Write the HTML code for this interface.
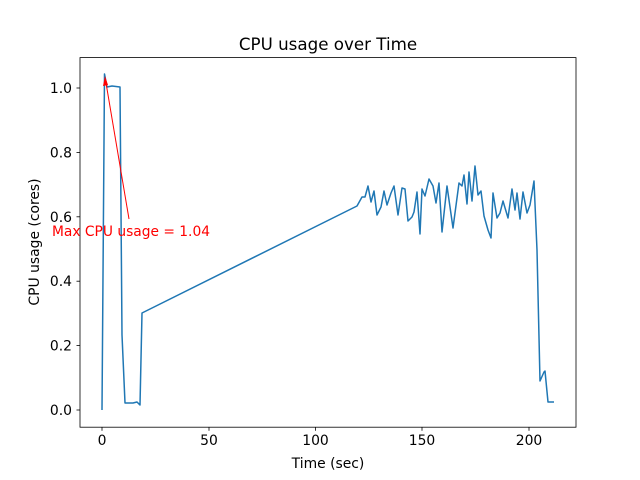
<!DOCTYPE html>
<html><head><meta charset="utf-8"><style>body{margin:0;background:#fff}svg{display:block}text{font-family:"DejaVu Sans","Liberation Sans",sans-serif}</style></head>
<body>
<svg width="640" height="480" viewBox="0 0 640 480">
<rect x="80" y="57.6" width="496" height="369.6" fill="#fff" stroke="#000" stroke-width="0.8"/>
<polyline fill="none" stroke="#1f77b4" stroke-width="1.5" stroke-linejoin="round" points="102,410 104.5,74 107,87 112,86 120,87 122,335 125,403 130,403 133,403 137,402 140,405 142,313 357,206 362,197 365,197 368,186 371,202 374,191 377,215 381,207 384,191 387,205 391,193 394,186 398,215 402,188 405,189 408,221 412,217 414,212 417,192 420,234 422,189 425,196 429,179 433,186 436,203 439,183 442,232 447,186 453,228 459,183 462,186 464,175 467,204 469,172 472,201 475,166 478,195 481,191 484,216 488,230 491,238 493,193 497,218 500,213 503,201 508,218 512,189 515,210 517,193 520,219 523,192 527,213 530,205 534,181 537,250 540,381 544,372 545,371 548,402 554,402"/>
<line x1="129" y1="219" x2="105.5" y2="80" stroke="red" stroke-width="1"/>
<polygon points="105,76 103,86 108,85" fill="red"/>
<text x="52" y="236" font-size="13.9" fill="red" textLength="158" lengthAdjust="spacingAndGlyphs">Max CPU usage = 1.04</text>
<g stroke="#000" stroke-width="0.8">
<line x1="102" y1="427.2" x2="102" y2="430.7"/><line x1="209" y1="427.2" x2="209" y2="430.7"/><line x1="315.5" y1="427.2" x2="315.5" y2="430.7"/><line x1="422" y1="427.2" x2="422" y2="430.7"/><line x1="529" y1="427.2" x2="529" y2="430.7"/>
<line x1="80" y1="410" x2="76.5" y2="410"/><line x1="80" y1="345.6" x2="76.5" y2="345.6"/><line x1="80" y1="281.2" x2="76.5" y2="281.2"/><line x1="80" y1="216.8" x2="76.5" y2="216.8"/><line x1="80" y1="152.4" x2="76.5" y2="152.4"/><line x1="80" y1="88" x2="76.5" y2="88"/>
</g>
<g font-size="13.9" text-anchor="middle">
<text x="102" y="445">0</text><text x="209" y="445">50</text><text x="315.5" y="445">100</text><text x="422" y="445">150</text><text x="529" y="445">200</text>
</g>
<g font-size="13.9" text-anchor="end">
<text x="72" y="415">0.0</text><text x="72" y="350.6">0.2</text><text x="72" y="286.2">0.4</text><text x="72" y="221.8">0.6</text><text x="72" y="157.4">0.8</text><text x="72" y="93">1.0</text>
</g>
<text x="328" y="468" font-size="13.9" text-anchor="middle">Time (sec)</text>
<text transform="translate(39,242) rotate(-90)" font-size="13.9" text-anchor="middle">CPU usage (cores)</text>
<text x="328" y="50" font-size="16.7" text-anchor="middle">CPU usage over Time</text>
</svg>
</body></html>
